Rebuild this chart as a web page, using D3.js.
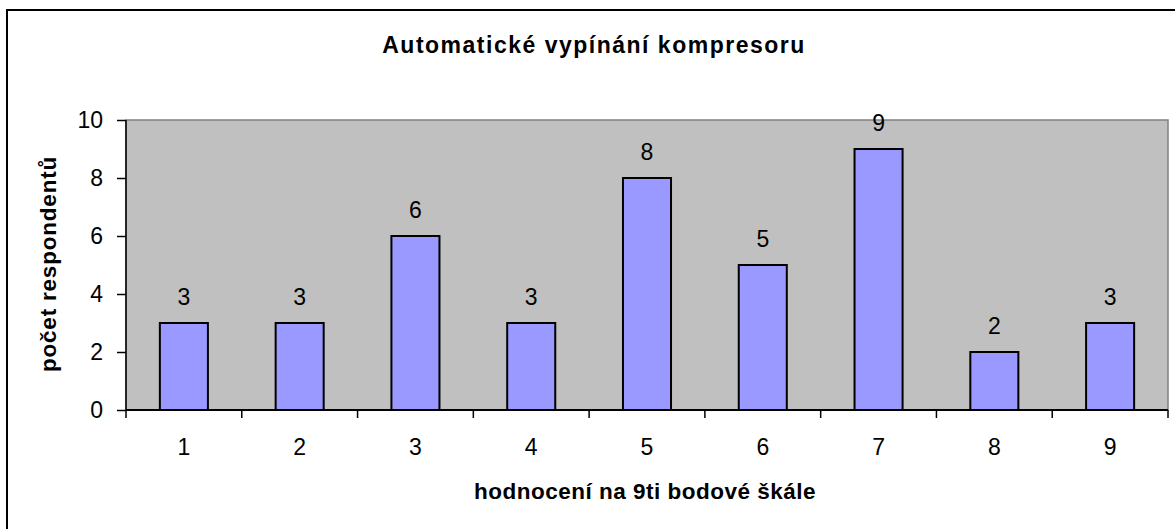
<!DOCTYPE html>
<html>
<head>
<meta charset="utf-8">
<script src="https://cdn.jsdelivr.net/npm/d3@7"></script>
<style>
  body { margin: 0; background: #fff; }
  text { font-family: "Liberation Sans", Arial, sans-serif; fill: #000; }
</style>
</head>
<body>
<svg width="1175" height="529"></svg>
<script>
// data
var categories = ["1", "2", "3", "4", "5", "6", "7", "8", "9"];
var counts = [3, 3, 6, 3, 8, 5, 9, 2, 3];
var yTicks = [0, 2, 4, 6, 8, 10];

var svg = d3.select("svg"),
  width = +svg.attr("width"),
  height = +svg.attr("height");

// outer chart frame (right/bottom run off the picture)
svg.append("rect")
  .attr("x", 7).attr("y", 10)
  .attr("width", 1180).attr("height", 530)
  .attr("fill", "#fff").attr("stroke", "#000").attr("stroke-width", 2);

var margin = {left: 126, top: 120, right: 1168, bottom: 410};

var x = d3.scaleBand()
  .domain(categories)
  .range([margin.left, margin.right])
  .padding(0);

var y = d3.scaleLinear()
  .domain([0, 10])
  .range([margin.bottom, margin.top]);

// plot area
svg.append("rect")
  .attr("x", margin.left).attr("y", margin.top)
  .attr("width", margin.right - margin.left)
  .attr("height", margin.bottom - margin.top)
  .attr("fill", "#c0c0c0").attr("stroke", "#808080").attr("stroke-width", 1.5);

var barW = x.bandwidth() * 0.415;

svg.append("g")
  .selectAll("rect")
  .data(counts)
  .join("rect")
  .attr("x", (d, i) => x(categories[i]) + (x.bandwidth() - barW) / 2)
  .attr("y", d => y(d))
  .attr("width", barW)
  .attr("height", d => y(0) - y(d))
  .attr("fill", "#9999ff")
  .attr("stroke", "#000")
  .attr("stroke-width", 2);

// value labels
svg.append("g")
  .selectAll("text")
  .data(counts)
  .join("text")
  .attr("x", (d, i) => x(categories[i]) + x.bandwidth() / 2)
  .attr("y", d => y(d) - 18)
  .attr("text-anchor", "middle")
  .attr("font-size", 23)
  .text(d => d);

// y axis
var yAxis = svg.append("g")
  .attr("transform", `translate(${margin.left},0)`)
  .call(d3.axisLeft(y).tickValues(yTicks).tickSize(9).tickPadding(14));
yAxis.selectAll("text").attr("font-size", 23).style("font-family", "Liberation Sans, Arial, sans-serif");
yAxis.selectAll("line, path").attr("stroke", "#000").attr("stroke-width", 1.5);
yAxis.select(".domain").attr("d", `M0,${margin.top}V${margin.bottom}`);

// x axis: ticks on category boundaries
var xAxis = svg.append("g")
  .attr("transform", `translate(0,${margin.bottom})`);
xAxis.append("line")
  .attr("x1", margin.left).attr("x2", margin.right)
  .attr("stroke", "#000").attr("stroke-width", 2);
xAxis.selectAll(".bound")
  .data(categories.concat(["end"]))
  .join("line")
  .attr("class", "bound")
  .attr("x1", (d, i) => i < categories.length ? x(d) : margin.right)
  .attr("x2", (d, i) => i < categories.length ? x(d) : margin.right)
  .attr("y1", 0).attr("y2", 8)
  .attr("stroke", "#000").attr("stroke-width", 1.5);
xAxis.selectAll(".lbl")
  .data(categories)
  .join("text")
  .attr("class", "lbl")
  .attr("x", d => x(d) + x.bandwidth() / 2)
  .attr("y", 45)
  .attr("text-anchor", "middle")
  .attr("font-size", 23)
  .text(d => d);

// titles
svg.append("text")
  .attr("x", 594).attr("y", 53)
  .attr("text-anchor", "middle")
  .attr("font-size", 23).attr("font-weight", "bold")
  .attr("letter-spacing", 1.5)
  .text("Automatické vypínání kompresoru");

svg.append("text")
  .attr("x", 645).attr("y", 499)
  .attr("text-anchor", "middle")
  .attr("font-size", 22.5).attr("font-weight", "bold")
  .attr("letter-spacing", 0.5)
  .text("hodnocení na 9ti bodové škále");

svg.append("text")
  .attr("transform", `translate(56,264) rotate(-90)`)
  .attr("text-anchor", "middle")
  .attr("font-size", 22.5).attr("font-weight", "bold")
  .attr("letter-spacing", 0.8)
  .text("počet respondentů");
</script>
</body>
</html>
